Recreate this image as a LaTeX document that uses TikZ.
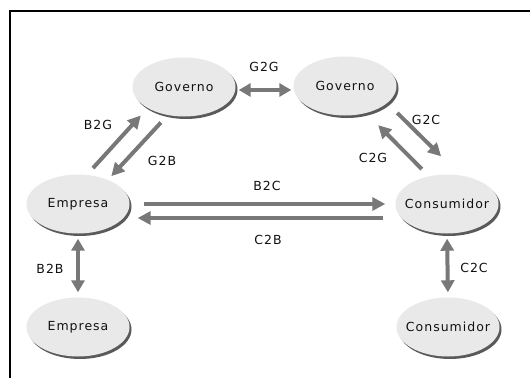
\documentclass[tikz,border=0pt]{standalone}
\usepackage{fontspec}
\setmainfont{DejaVu Sans}[LetterSpace=8]
\usetikzlibrary{arrows.meta,shapes.geometric,shadows}
\definecolor{ink}{HTML}{111111}
\definecolor{flow}{HTML}{787878}
\definecolor{party}{HTML}{E9E9E9}
\definecolor{rim}{HTML}{5A5A5A}
\tikzset{
  base/.style={font=\fontsize{12.5}{14}\selectfont, text=ink},
  party/.style={base, ellipse, fill=party, minimum width=103pt, minimum height=59pt, inner ysep=0pt, inner xsep=-6pt,
    drop shadow={shadow xshift=2pt, shadow yshift=-2.5pt, fill=rim, opacity=1}},
  flow/.style={-{Triangle[length=13pt,width=13pt]}, line width=4pt, draw=flow},
  twoway/.style={flow, {Triangle[length=12pt,width=13pt]}-{Triangle[length=12pt,width=13pt]}},
  tag/.style={base},
}

\begin{document}
\begin{tikzpicture}[x=1pt,y=-1pt]
  \useasboundingbox (0,0) rectangle (530,378);
  \draw[line width=2pt] (530,11) -- (10,11) -- (10,378);

  \node[party] (govL) at (184,87) {Governo};
  \node[party] (govR) at (345,86) {Governo};
  \node[party] (emp) at (78,204) {Empresa};
  \node[party] (con) at (447,204) {Consumidor};
  \node[party] (empB) at (78,327) {Empresa};
  \node[party] (conB) at (448,327) {Consumidor};

  \draw[twoway, shorten <=3pt, shorten >=2pt] ([yshift=-3pt]govL.east) -- ([yshift=-3pt]govL.east -| govR.west);
  \draw[flow, shorten <=9pt, shorten >=10pt] (emp.73) -- (govL.210);
  \draw[flow, shorten <=10pt, shorten >=5pt] (govL.240) -- (emp.39);
  \draw[flow, shorten <=14pt, shorten >=27pt] (govR.-22) -- (con.65);
  \draw[flow, shorten <=10pt, shorten >=17pt] (con.123) -- (govR.-52);
  \draw[flow, shorten <=14pt, shorten >=10pt] (emp.east) -- (con.west);
  \draw[flow, shorten <=12pt, shorten >=8pt] ([yshift=-14pt]con.west) -- ([yshift=-14pt]emp.east);
  \draw[twoway, shorten <=5pt, shorten >=5pt] (emp.south) -- (empB.north);
  \draw[twoway, shorten <=5pt, shorten >=5pt] (con.south) -- (conB.north);

  \node[tag] (g2g) at (264,67) {G2G};
  \node[tag] (b2g) at (98,125) {B2G};
  \node[tag] (g2b) at (162,161) {G2B};
  \node[tag] (g2c) at (426,120) {G2C};
  \node[tag] (c2g) at (373,158) {C2G};
  \node[tag] (b2c) at (267,186) {B2C};
  \node[tag] (c2b) at (268,240) {C2B};
  \node[tag] (b2b) at (50,269) {B2B};
  \node[tag] (c2c) at (474,268) {C2C};
\end{tikzpicture}
\end{document}
